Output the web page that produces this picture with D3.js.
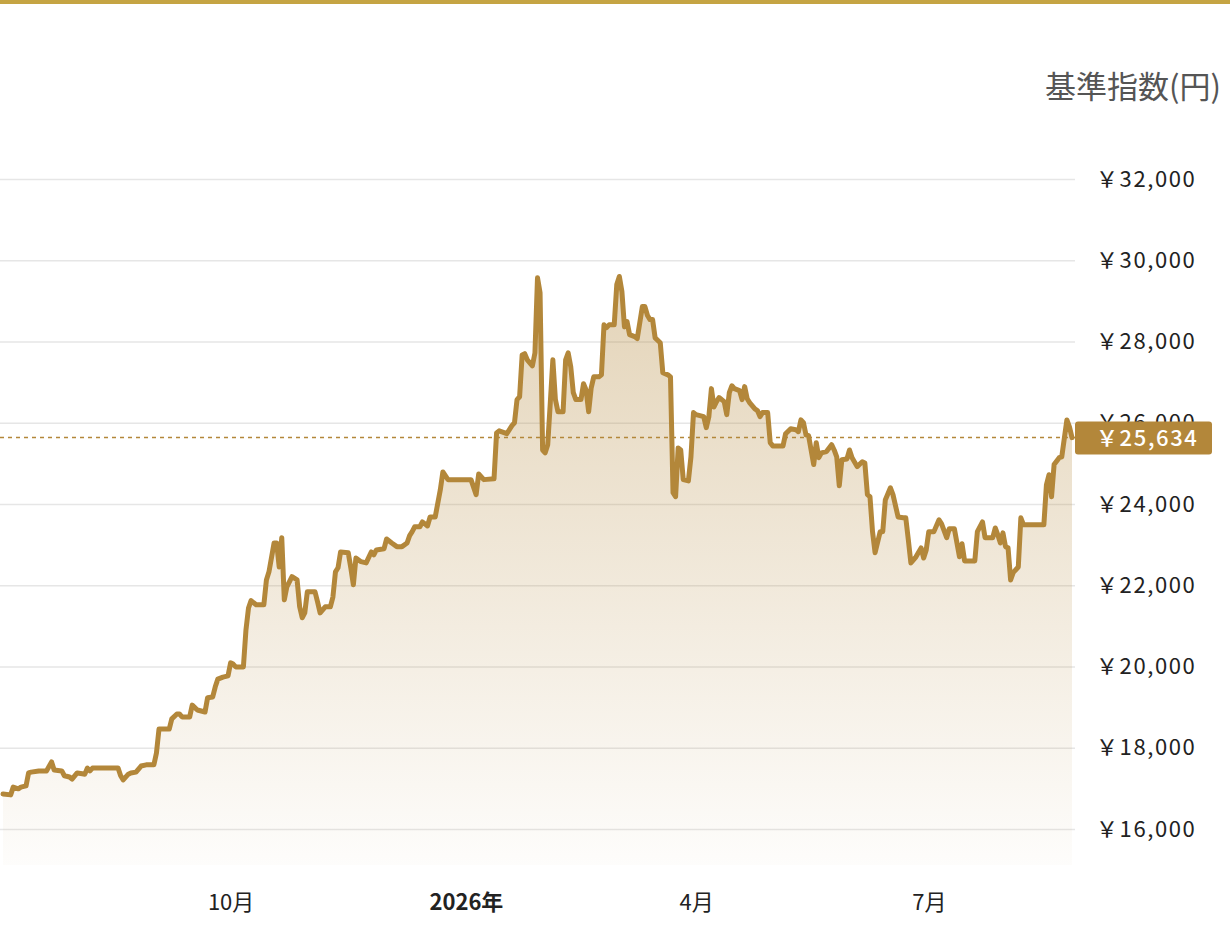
<!DOCTYPE html>
<html><head><meta charset="utf-8">
<script src="https://cdn.jsdelivr.net/npm/d3@7"></script>
<style>
html,body{margin:0;padding:0;background:#fff;}
svg{display:block;}
</style></head>
<body>
<svg id="chart" width="1230" height="944"></svg>
<script>
// ---- data ----
const dates = ("2025-07-04 2025-07-07 2025-07-08 2025-07-10 2025-07-11 2025-07-13 2025-07-14 2025-07-15 2025-07-18 2025-07-21 " +
"2025-07-23 2025-07-24 2025-07-27 2025-07-28 2025-07-30 2025-07-31 2025-08-02 2025-08-04 2025-08-05 2025-08-06 " +
"2025-08-07 2025-08-08 2025-08-18 2025-08-19 2025-08-20 2025-08-22 2025-08-23 2025-08-25 2025-08-27 2025-08-29 " +
"2025-09-01 2025-09-02 2025-09-03 2025-09-07 2025-09-08 2025-09-10 2025-09-11 2025-09-12 2025-09-15 2025-09-16 " +
"2025-09-18 2025-09-21 2025-09-22 2025-09-24 2025-09-25 2025-09-26 2025-09-28 2025-09-30 2025-10-01 2025-10-02 " +
"2025-10-03 2025-10-06 2025-10-07 2025-10-08 2025-10-09 2025-10-11 2025-10-14 2025-10-15 2025-10-16 2025-10-18 " +
"2025-10-19 2025-10-20 2025-10-21 2025-10-22 2025-10-23 2025-10-25 2025-10-27 2025-10-28 2025-10-29 2025-10-30 " +
"2025-10-31 2025-11-03 2025-11-04 2025-11-05 2025-11-07 2025-11-09 2025-11-10 2025-11-11 2025-11-12 2025-11-13 " +
"2025-11-16 2025-11-17 2025-11-18 2025-11-19 2025-11-21 2025-11-23 2025-11-25 2025-11-26 2025-11-27 2025-11-30 " +
"2025-12-01 2025-12-03 2025-12-05 2025-12-07 2025-12-09 2025-12-10 2025-12-11 2025-12-12 2025-12-14 2025-12-15 " +
"2025-12-17 2025-12-18 2025-12-20 2025-12-22 2025-12-23 2025-12-25 2026-01-03 2026-01-05 2026-01-06 2026-01-08 " +
"2026-01-12 2026-01-13 2026-01-14 2026-01-17 2026-01-19 2026-01-20 2026-01-21 2026-01-22 2026-01-23 2026-01-24 " +
"2026-01-25 2026-01-27 2026-01-28 2026-01-29 2026-01-30 2026-01-31 2026-02-01 2026-02-02 2026-02-03 2026-02-04 " +
"2026-02-05 2026-02-06 2026-02-08 2026-02-09 2026-02-10 2026-02-11 2026-02-12 2026-02-13 2026-02-15 2026-02-16 " +
"2026-02-17 2026-02-18 2026-02-19 2026-02-20 2026-02-22 2026-02-23 2026-02-24 2026-02-25 2026-02-26 2026-02-28 " +
"2026-03-01 2026-03-02 2026-03-03 2026-03-04 2026-03-05 2026-03-06 2026-03-08 2026-03-09 2026-03-11 2026-03-12 " +
"2026-03-13 2026-03-14 2026-03-15 2026-03-16 2026-03-18 2026-03-19 2026-03-21 2026-03-22 2026-03-23 2026-03-24 " +
"2026-03-25 2026-03-26 2026-03-27 2026-03-29 2026-03-30 2026-03-31 2026-04-01 2026-04-04 2026-04-05 2026-04-06 " +
"2026-04-07 2026-04-08 2026-04-09 2026-04-10 2026-04-12 2026-04-13 2026-04-14 2026-04-15 2026-04-16 2026-04-18 " +
"2026-04-19 2026-04-20 2026-04-21 2026-04-22 2026-04-24 2026-04-25 2026-04-26 2026-04-27 2026-04-29 2026-04-30 " +
"2026-05-01 2026-05-05 2026-05-06 2026-05-08 2026-05-10 2026-05-11 2026-05-12 2026-05-13 2026-05-14 2026-05-15 " +
"2026-05-17 2026-05-18 2026-05-19 2026-05-20 2026-05-22 2026-05-24 2026-05-25 2026-05-26 2026-05-27 2026-05-28 " +
"2026-05-30 2026-05-31 2026-06-01 2026-06-03 2026-06-05 2026-06-06 2026-06-07 2026-06-08 2026-06-09 2026-06-10 " +
"2026-06-12 2026-06-13 2026-06-14 2026-06-16 2026-06-17 2026-06-19 2026-06-21 2026-06-22 2026-06-23 2026-06-24 " +
"2026-06-26 2026-06-28 2026-06-29 2026-06-30 2026-07-01 2026-07-03 2026-07-05 2026-07-06 2026-07-08 2026-07-09 " +
"2026-07-11 2026-07-13 2026-07-14 2026-07-15 2026-07-19 2026-07-20 2026-07-22 2026-07-23 2026-07-26 2026-07-27 " +
"2026-07-28 2026-07-29 2026-07-30 2026-07-31 2026-08-01 2026-08-02 2026-08-03 2026-08-05 2026-08-06 2026-08-07 " +
"2026-08-15 2026-08-16 2026-08-17 2026-08-18 2026-08-19 2026-08-21 2026-08-22 2026-08-24 2026-08-25 2026-08-26").split(" ");

const values = [
16860,16840,17030,16990,17030,17060,17380,17400,17430,17430,
17650,17450,17430,17310,17280,17230,17380,17360,17350,17500,
17430,17500,17500,17310,17210,17350,17380,17400,17550,17580,
17580,17870,18460,18460,18710,18830,18830,18760,18760,19050,
18930,18880,19230,19250,19500,19690,19740,19770,20090,20060,
19990,19990,20900,21440,21620,21520,21520,22130,22330,23040,
23040,22450,23170,21640,21960,22210,22130,21470,21200,21320,
21840,21840,21590,21320,21470,21470,21710,22330,22430,22820,
22800,22430,22010,22670,22580,22550,22820,22750,22870,22900,
23140,23040,22950,22950,23040,23220,23320,23440,23440,23560,
23460,23680,23680,24350,24790,24600,24600,24230,24740,24600,
24620,25750,25800,25730,25930,26000,26570,26640,27670,27700,
27550,27400,27720,29570,29200,25330,25260,25460,26490,27550,
26570,26270,26270,27550,27720,27380,26740,26570,26570,26960,
26810,26270,26860,27130,27130,27180,28410,28340,28410,28410,
29400,29600,29230,28360,28490,28170,28120,28070,28860,28860,
28640,28540,28540,28090,27970,27230,27180,27130,24280,24180,
25380,25330,24600,24570,25160,26250,26200,26150,25880,26150,
26840,26390,26520,26620,26520,26200,26740,26910,26840,26790,
26570,26890,26590,26490,26340,26300,26150,26250,26250,25510,
25430,25430,25730,25850,25830,25780,26070,26000,25700,25680,
24970,25510,25140,25260,25290,25460,25330,25160,24450,25090,
25110,25330,25140,24920,25040,25010,24230,24180,23320,22800,
23320,23320,24100,24400,24230,23680,23660,23660,23120,22550,
22700,22920,22670,22870,23320,23320,23610,23510,23170,23390,
23390,22700,23020,22600,22600,23320,23560,23170,23170,23410,
23240,23040,23290,22950,22920,22130,22310,22450,23660,23490,
23490,24470,24720,24180,24970,25140,25160,26070,25900,25634
];

const yTickValues = [16000,18000,20000,22000,24000,26000,28000,30000,32000];
const xTickDates = ["2025-10-01","2026-01-01","2026-04-01","2026-07-01"];
const xTickLabels = ["10月","2026年","4月","7月"];
const xTickBold = [false,true,false,false];
const yAxisTitle = "基準指数(円)";

// ---- chart ----
const parse = d3.timeParse("%Y-%m-%d");
const data = dates.map((d,i)=>({date:parse(d), value:values[i]}));
const last = data[data.length-1];

const W = 1230, H = 944;
const plotLeft = 3, plotRight = 1072, gridRight = 1075, plotBottom = 865;
const gold = "#b3873a";
const FONT = "'Noto Sans CJK JP', 'Noto Sans', sans-serif";

const svg = d3.select("#chart");

const x = d3.scaleTime().domain(d3.extent(data, d=>d.date)).range([plotLeft, plotRight]);
const y = d3.scaleLinear().domain([16000, 32000]).range([829, 179]);

// top border
svg.append("rect").attr("x",0).attr("y",0).attr("width",W).attr("height",4).attr("fill","#c5a443");

// gradient
const defs = svg.append("defs");
const grad = defs.append("linearGradient").attr("id","areaGrad")
  .attr("gradientUnits","userSpaceOnUse").attr("x1",0).attr("x2",0)
  .attr("y1", y(d3.max(values))).attr("y2", plotBottom);
grad.append("stop").attr("offset","0%").attr("stop-color",gold).attr("stop-opacity",0.36);
grad.append("stop").attr("offset","100%").attr("stop-color",gold).attr("stop-opacity",0.02);

// grid lines
const gridAxis = d3.axisRight(y).tickValues(yTickValues).tickSize(gridRight).tickFormat("");
svg.append("g").call(gridAxis)
  .call(g=>g.select(".domain").remove())
  .call(g=>g.selectAll(".tick line").attr("stroke","#e6e6e6").attr("stroke-width",1.5));

// area
const area = d3.area().x(d=>x(d.date)).y0(plotBottom).y1(d=>y(d.value));
svg.append("path").datum(data).attr("d",area).attr("fill","url(#areaGrad)");

// y axis labels
const fmt = d3.format(",");
const yAxis = d3.axisRight(y).tickValues(yTickValues).tickSize(0).tickPadding(0)
  .tickFormat(d=>"￥"+fmt(d));
svg.append("g").attr("transform","translate(1096,0)").call(yAxis)
  .call(g=>g.select(".domain").remove())
  .call(g=>g.selectAll(".tick text")
     .attr("font-family",FONT)
     .attr("font-size",22).attr("fill","#222").attr("letter-spacing","1.6px"));

// last value dashed line
svg.append("line").attr("x1",0).attr("x2",gridRight)
  .attr("y1",y(last.value)).attr("y2",y(last.value))
  .attr("stroke",gold).attr("stroke-width",1.5).attr("stroke-dasharray","4,4");

// line
const line = d3.line().x(d=>x(d.date)).y(d=>y(d.value));
svg.append("path").datum(data).attr("d",line).attr("fill","none")
  .attr("stroke",gold).attr("stroke-width",5)
  .attr("stroke-linejoin","round").attr("stroke-linecap","round");

// last value label
const ly = y(last.value);
svg.append("rect").attr("x",1075).attr("y",ly-16).attr("width",137).attr("height",33)
  .attr("rx",3).attr("fill",gold);
svg.append("text").attr("x",1096).attr("y",ly).attr("dy","0.36em")
  .attr("font-family",FONT)
  .attr("font-size",22).attr("font-weight",500).attr("fill","#fff").attr("letter-spacing","1.6px")
  .text("￥"+fmt(last.value));

// x axis
const xAxis = d3.axisBottom(x).tickValues(xTickDates.map(parse)).tickSize(0).tickPadding(0)
  .tickFormat((d,i)=>xTickLabels[i]);
svg.append("g").attr("transform","translate(0,902)").call(xAxis)
  .call(g=>g.select(".domain").remove())
  .call(g=>g.selectAll(".tick text")
     .attr("dy","0.35em")
     .attr("font-family",FONT)
     .attr("font-size",22).attr("fill","#222")
     .attr("font-weight",(d,i)=>xTickBold[i]?700:400));

// title
svg.append("text").attr("x",1221).attr("y",87).attr("dy","0.35em").attr("text-anchor","end")
  .attr("font-family",FONT)
  .attr("font-size",31).attr("fill","#555").text(yAxisTitle);
</script>
</body></html>
